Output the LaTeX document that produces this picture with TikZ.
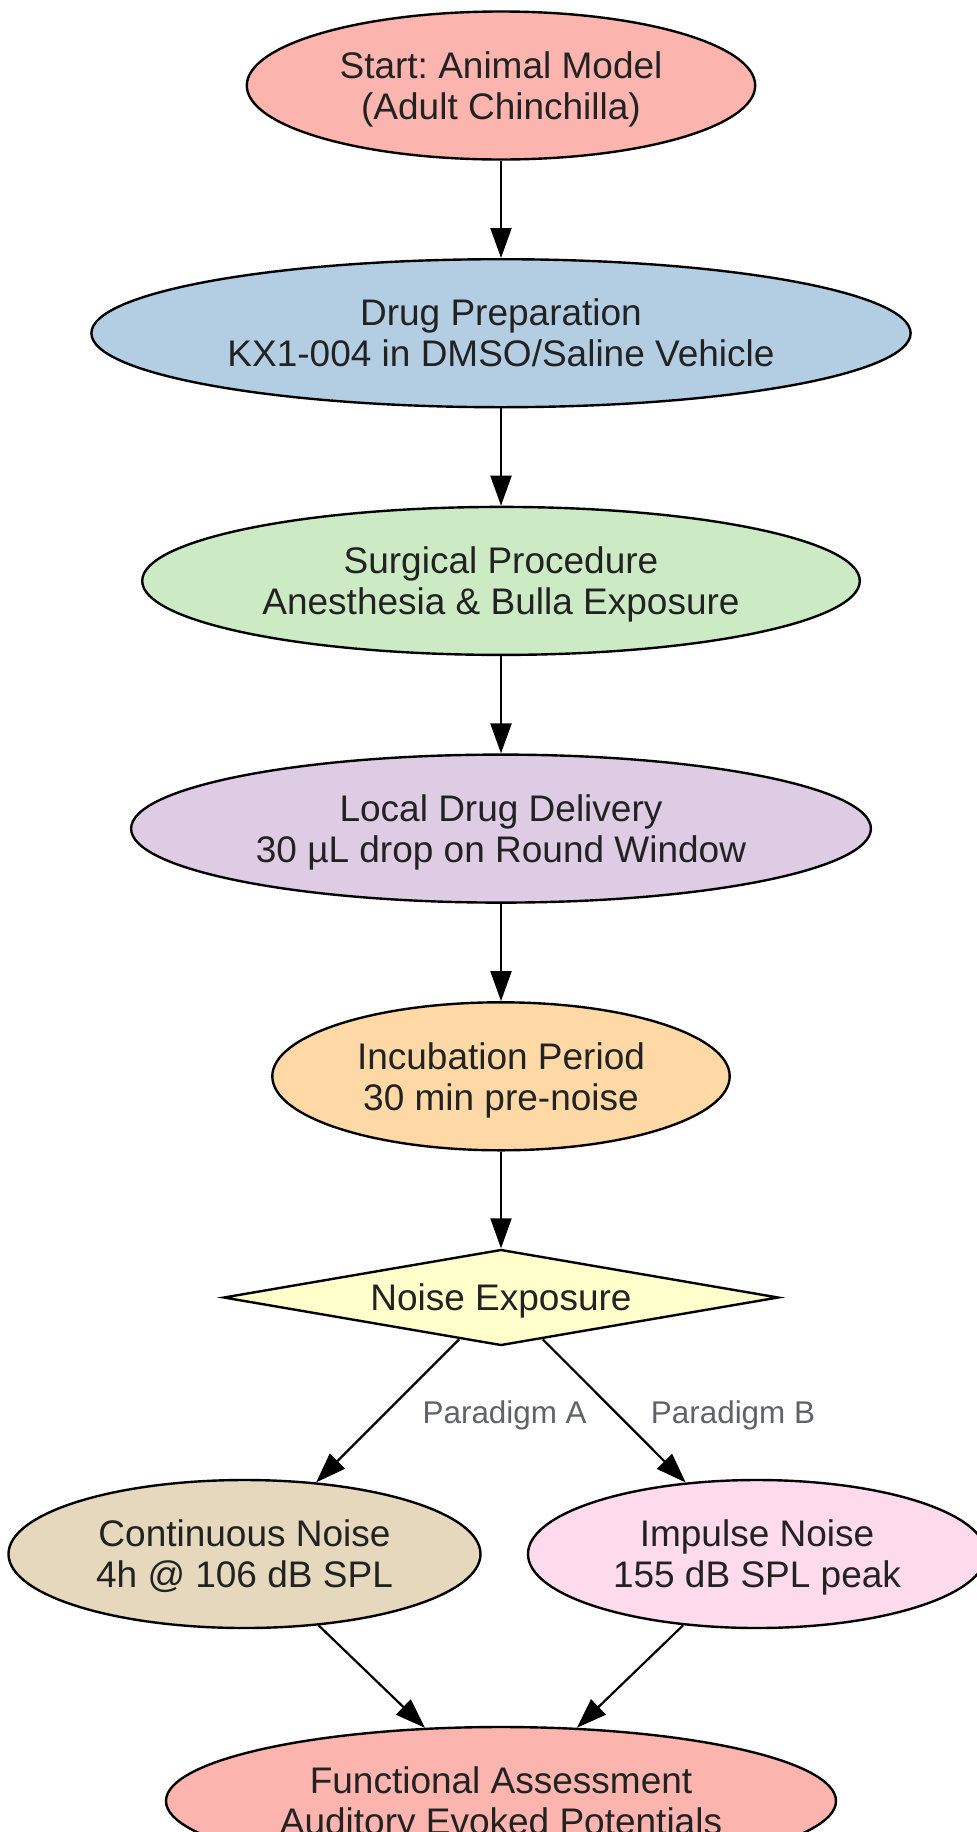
\documentclass[tikz,border=0pt]{standalone}
\usepackage{fontspec}
\setmainfont{Liberation Sans}
\frenchspacing
\usetikzlibrary{shapes.geometric,arrows.meta}
\definecolor{cRed}{HTML}{FBB4AE}
\definecolor{cBlue}{HTML}{B3CDE3}
\definecolor{cGreen}{HTML}{CCEBC5}
\definecolor{cPurple}{HTML}{DECBE4}
\definecolor{cOrange}{HTML}{FED9A6}
\definecolor{cYellow}{HTML}{FFFFCC}
\definecolor{cBrown}{HTML}{E5D8BD}
\definecolor{cPink}{HTML}{FDDAEC}
\definecolor{cText}{HTML}{222222}
\definecolor{cLabel}{HTML}{5F6368}
\tikzset{
  stepnode/.style={ellipse, draw=black, line width=2.4pt, inner sep=0pt,
    font=\fontsize{37}{41}\selectfont, text=cText, align=center,
    text height=67.5pt, text depth=0pt, minimum height=148pt},
  decnode/.style={diamond, draw=black, line width=2.4pt, inner sep=0pt,
    font=\fontsize{37}{41}\selectfont, text=cText, align=center,
    text height=26.5pt, text depth=0pt, fill=cYellow, shape aspect=5.77,
    minimum width=555pt, minimum height=96pt},
  conn/.style={line width=2.2pt, -{Triangle[length=30pt,width=21pt]}},
  elabel/.style={font=\fontsize{31.4}{36}\selectfont, text=cLabel, inner sep=0pt}
}
\begin{document}
\begin{tikzpicture}[x=1pt,y=-1pt]
\fill[white] (0,0) rectangle (977,1832);
\useasboundingbox (0,0) rectangle (977,1832);
\node[stepnode, fill=cRed, minimum width=508.4pt] (start) at (501,85.5) {Start: Animal Model\\(Adult Chinchilla)};
\node[stepnode, fill=cBlue, minimum width=819.2pt] (drug) at (501,333.2) {Drug Preparation\\KX1-004 in DMSO/Saline Vehicle};
\node[stepnode, fill=cGreen, minimum width=717.6pt] (surg) at (501,580.9) {Surgical Procedure\\Anesthesia \& Bulla Exposure};
\node[stepnode, fill=cPurple, minimum width=739.8pt] (local) at (501,828.6) {Local Drug Delivery\\30 µL drop on Round Window};
\node[stepnode, fill=cOrange, minimum width=457.4pt] (incub) at (501,1076.3) {Incubation Period\\30 min pre-noise};
\node[decnode] (noise) at (501,1297.5) {Noise Exposure};
\node[stepnode, fill=cBrown, minimum width=472pt] (cont) at (244.5,1554) {Continuous Noise\\4h @ 106 dB SPL};
\node[stepnode, fill=cPink, minimum width=458pt] (imp) at (757,1554) {Impulse Noise\\155 dB SPL peak};
\node[stepnode, fill=cRed, minimum width=670pt] (func) at (501,1801) {Functional Assessment\\Auditory Evoked Potentials};
\draw[conn] (start) -- (drug);
\draw[conn] (drug) -- (surg);
\draw[conn] (surg) -- (local);
\draw[conn] (local) -- (incub);
\draw[conn] (incub) -- (noise);
\draw[conn] (noise) -- (cont);
\draw[conn] (noise) -- (imp);
\draw[conn] (cont) -- (func);
\draw[conn] (imp) -- (func);
\node[elabel, anchor=base] (la) at (504.7,1423) {Paradigm A};
\node[elabel, anchor=base] (lb) at (733,1423) {Paradigm B};
\end{tikzpicture}
\end{document}
